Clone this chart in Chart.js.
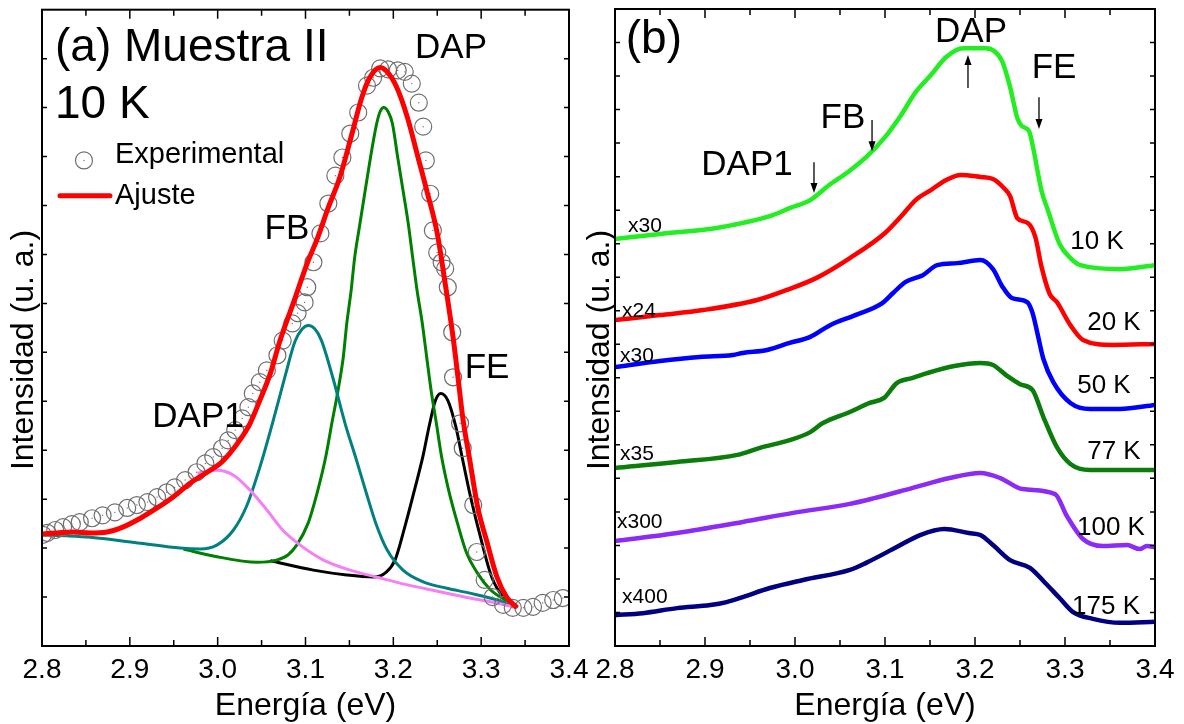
<!DOCTYPE html>
<html>
<head>
<meta charset="utf-8">
<title>Muestra II - fotoluminiscencia</title>
<script src="https://cdn.jsdelivr.net/npm/chart.js@4.4.1/dist/chart.umd.min.js"></script>
<style>
  html, body { margin: 0; padding: 0; background: #fff; }
  #wrap { position: relative; width: 1184px; height: 724px; }
  .panel { position: absolute; top: 0; }
  #boxA { left: 0; }
  #boxB { left: 580px; }
</style>
</head>
<body>
<div id="wrap">
  <div class="panel" id="boxA"><canvas id="chartA" width="600" height="724"></canvas></div>
  <div class="panel" id="boxB"><canvas id="chartB" width="604" height="724"></canvas></div>
</div>
<script>
// ---- (a) Muestra II, 10 K : experimental + ajuste ----
const expEnergy = [2.801, 2.806, 2.815, 2.824, 2.834, 2.843, 2.857, 2.869, 2.883, 2.897, 2.908, 2.920, 2.931, 2.942, 2.951, 2.963,
    2.976, 2.986, 2.995, 3.005, 3.012, 3.020, 3.028, 3.035, 3.040, 3.048, 3.056, 3.068, 3.074, 3.085, 3.091, 3.099, 3.102, 3.109,
    3.117, 3.126, 3.134, 3.142, 3.151, 3.160, 3.170, 3.177, 3.185, 3.194, 3.205, 3.213, 3.221, 3.229, 3.234, 3.237, 3.242, 3.245,
    3.250, 3.255, 3.259, 3.262, 3.267, 3.268, 3.276, 3.279, 3.291, 3.295, 3.304, 3.313, 3.325, 3.336, 3.348, 3.359, 3.370, 3.382, 3.393];
const expIntensity = [2.27, 2.31, 2.37, 2.43, 2.49, 2.53, 2.61, 2.67, 2.73, 2.82, 2.88, 2.94, 3.04, 3.14, 3.24, 3.39,
    3.55, 3.73, 3.86, 4.04, 4.20, 4.41, 4.65, 4.88, 5.16, 5.39, 5.63, 5.94, 6.24, 6.59, 6.80, 7.02, 7.33, 7.84,
    8.43, 9.04, 9.61, 9.98, 10.47, 10.90, 11.45, 11.61, 11.80, 11.78, 11.76, 11.73, 11.49, 11.10, 10.61, 9.92, 9.24, 8.49,
    8.04, 7.84, 7.71, 7.33, 6.41, 5.49, 4.55, 4.04, 2.88, 1.92, 1.35, 1.00, 0.84, 0.78, 0.78, 0.80, 0.88, 0.94, 0.98];

const fitEnergy = [2.801, 2.817, 2.835, 2.855, 2.874, 2.892, 2.912, 2.931, 2.949, 2.969, 2.988, 3.003, 3.014, 3.025, 3.037,
    3.048, 3.060, 3.071, 3.086, 3.102, 3.114, 3.126, 3.139, 3.153, 3.164, 3.173, 3.185, 3.194, 3.204, 3.216, 3.227, 3.238,
    3.250, 3.259, 3.268, 3.274, 3.279, 3.287, 3.296, 3.307, 3.318, 3.329, 3.341];
const fitIntensity = [2.29, 2.31, 2.33, 2.31, 2.33, 2.43, 2.61, 2.82, 3.04, 3.33, 3.55, 3.73, 3.94, 4.20, 4.55,
    5.02, 5.57, 6.24, 7.00, 7.82, 8.35, 8.96, 9.57, 10.47, 11.20, 11.61, 11.82, 11.71, 11.41, 10.80, 10.06, 9.31,
    8.43, 7.41, 6.31, 5.43, 4.67, 3.80, 2.84, 2.10, 1.41, 1.00, 0.78];

const dap1Energy = [2.977, 2.988, 2.999, 3.018, 3.037, 3.056, 3.074, 3.094, 3.120, 3.147, 3.185, 3.211, 3.250, 3.287, 3.318, 3.341];
const dap1Intensity = [3.53, 3.57, 3.59, 3.49, 3.18, 2.78, 2.37, 2.06, 1.76, 1.57, 1.39, 1.27, 1.12, 0.98, 0.88, 0.78];

const fbEnergy = [2.801, 2.829, 2.855, 2.912, 2.957, 2.980, 2.999, 3.018, 3.033, 3.048, 3.063, 3.077, 3.088, 3.096, 3.103,
    3.110, 3.118, 3.131, 3.145, 3.158, 3.170, 3.180, 3.193, 3.211, 3.234, 3.261, 3.287, 3.318, 3.341];
const fbIntensity = [2.27, 2.25, 2.22, 2.10, 2.00, 1.98, 2.06, 2.37, 2.86, 3.65, 4.59, 5.53, 6.22, 6.47, 6.55,
    6.49, 6.25, 5.49, 4.55, 3.80, 3.08, 2.51, 1.96, 1.55, 1.31, 1.18, 1.08, 0.94, 0.78];

const dapEnergy = [2.961, 2.995, 3.045, 3.068, 3.080, 3.090, 3.103, 3.114, 3.123, 3.130, 3.137, 3.143, 3.147, 3.152, 3.156,
    3.162, 3.168, 3.174, 3.181, 3.185, 3.189, 3.194, 3.199, 3.205, 3.211, 3.217, 3.222, 3.227, 3.233, 3.238, 3.243, 3.249,
    3.255, 3.263, 3.273, 3.283, 3.295, 3.310, 3.327, 3.341];
const dapIntensity = [1.98, 1.84, 1.71, 1.76, 1.86, 2.06, 2.51, 3.18, 3.86, 4.55, 5.22, 5.90, 6.59, 7.27, 7.94,
    8.63, 9.31, 9.98, 10.67, 10.92, 11.00, 10.92, 10.67, 9.98, 9.31, 8.63, 7.94, 7.27, 6.59, 5.90, 5.22, 4.55,
    3.86, 3.18, 2.51, 1.92, 1.51, 1.16, 0.94, 0.78];

const feEnergy = [3.060, 3.109, 3.147, 3.177, 3.192, 3.202, 3.213, 3.225, 3.234, 3.241, 3.248, 3.254, 3.262, 3.271, 3.279,
    3.288, 3.301, 3.312, 3.325, 3.341];
const feIntensity = [1.74, 1.55, 1.45, 1.41, 1.51, 1.76, 2.43, 3.25, 3.90, 4.51, 5.02, 5.16, 5.02, 4.49, 3.80,
    3.04, 2.10, 1.41, 1.00, 0.78];

// ---- (b) espectros a distintas temperaturas (desplazados) ----
const temperatures = ['10 K', '20 K', '50 K', '77 K', '100 K', '175 K'];
const factors = ['x30', 'x24', 'x30', 'x35', 'x300', 'x400'];

const e10K = [2.800, 2.850, 2.913, 2.942, 2.972, 2.994, 3.017, 3.038, 3.059, 3.079, 3.100, 3.118, 3.134, 3.151, 3.168, 3.187,
    3.212, 3.230, 3.239, 3.247, 3.252, 3.260, 3.264, 3.274, 3.281, 3.294, 3.306, 3.317, 3.361, 3.400];
const i10K = [12.14, 12.29, 12.47, 12.62, 12.82, 13.06, 13.30, 13.75, 14.14, 14.58, 15.18, 15.84, 16.52, 17.03, 17.57, 17.83,
    17.83, 17.45, 16.67, 15.75, 15.51, 15.36, 14.94, 13.57, 13.00, 11.99, 11.57, 11.36, 11.24, 11.36];

const e20K = [2.800, 2.850, 2.898, 2.958, 2.991, 3.024, 3.061, 3.100, 3.121, 3.134, 3.151, 3.168, 3.184, 3.206, 3.220,
    3.231, 3.239, 3.247, 3.259, 3.267, 3.274, 3.283, 3.291, 3.306, 3.320, 3.353, 3.400];
const i20K = [9.72, 9.87, 10.02, 10.32, 10.62, 10.98, 11.57, 12.32, 12.91, 13.30, 13.60, 13.90, 14.05, 13.99, 13.93,
    13.69, 13.42, 12.76, 12.61, 12.20, 11.30, 10.50, 10.26, 9.57, 9.13, 8.98, 9.01];

const e50K = [2.800, 2.850, 2.894, 2.931, 2.942, 2.969, 2.994, 3.017, 3.039, 3.067, 3.097, 3.109, 3.123, 3.142, 3.158,
    3.180, 3.206, 3.220, 3.230, 3.241, 3.258, 3.264, 3.270, 3.276, 3.287, 3.306, 3.328, 3.361, 3.400];
const i50K = [8.32, 8.50, 8.62, 8.68, 8.74, 8.83, 9.04, 9.22, 9.57, 9.87, 10.23, 10.53, 10.86, 11.06, 11.36,
    11.42, 11.51, 11.24, 10.74, 10.38, 10.26, 9.93, 9.25, 8.56, 7.87, 7.25, 7.07, 7.07, 7.19];

const e77K = [2.800, 2.869, 2.936, 2.961, 2.994, 3.017, 3.031, 3.061, 3.083, 3.099, 3.113, 3.130, 3.147, 3.177, 3.206,
    3.220, 3.236, 3.250, 3.264, 3.276, 3.291, 3.306, 3.328, 3.400];
const i77K = [5.31, 5.49, 5.70, 5.91, 6.14, 6.38, 6.65, 6.98, 7.25, 7.40, 7.84, 7.99, 8.14, 8.35, 8.44,
    8.38, 8.05, 7.81, 7.63, 6.83, 5.93, 5.43, 5.25, 5.25];

const e100K = [2.800, 2.869, 2.942, 2.998, 3.061, 3.088, 3.130, 3.172, 3.206, 3.228, 3.253, 3.289, 3.302, 3.320,
    3.342, 3.369, 3.383, 3.391, 3.400];
const i100K = [3.13, 3.37, 3.70, 3.97, 4.24, 4.41, 4.71, 5.01, 5.16, 5.01, 4.68, 4.53, 3.88, 3.19,
    2.98, 3.01, 2.89, 2.98, 2.95];

const e175K = [2.800, 2.831, 2.869, 2.906, 2.924, 2.942, 2.972, 3.009, 3.061, 3.079, 3.113, 3.139, 3.166, 3.193, 3.206,
    3.220, 3.239, 3.261, 3.276, 3.294, 3.309, 3.331, 3.361, 3.400];
const i175K = [0.92, 0.98, 1.13, 1.22, 1.31, 1.46, 1.73, 1.97, 2.27, 2.48, 2.95, 3.31, 3.49, 3.37, 3.31,
    3.01, 2.56, 2.33, 1.94, 1.43, 1.01, 0.81, 0.69, 0.72];

const energyTicks = [2.8, 2.9, 3.0, 3.1, 3.2, 3.3, 3.4];

const FONT = '"Liberation Sans", Arial, sans-serif';
Chart.defaults.font.family = FONT;
Chart.defaults.color = '#000';

function pts(xs, ys) {
    return xs.map((x, i) => ({ x: x, y: ys[i] }));
}

function curve(label, xs, ys, color, width, order) {
    return {
        label: label,
        data: pts(xs, ys),
        showLine: true,
        borderColor: color,
        backgroundColor: color,
        borderWidth: width,
        pointRadius: 0,
        cubicInterpolationMode: 'monotone',
        order: order
    };
}

// frame, inward ticks, titles and notes
function decor(cfg) {
    return {
        id: 'decor',
        afterDatasetsDraw(chart) {
            const ctx = chart.ctx;
            const a = chart.chartArea;
            const xs = chart.scales.x;
            const ys = chart.scales.y;
            ctx.save();
            ctx.strokeStyle = '#000';
            ctx.lineWidth = 2;
            ctx.strokeRect(a.left, a.top, a.right - a.left, a.bottom - a.top);

            ctx.lineWidth = 1.5;
            ctx.beginPath();
            for (let i = 0; i <= 12; i++) {
                const px = xs.getPixelForValue(2.8 + i * 0.05);
                const len = i % 2 === 0 ? 9 : 6;
                ctx.moveTo(px, a.bottom); ctx.lineTo(px, a.bottom - len);
                ctx.moveTo(px, a.top); ctx.lineTo(px, a.top + len);
            }
            for (let v = 1; v < ys.max; v++) {
                const py = ys.getPixelForValue(v);
                ctx.moveTo(a.left, py); ctx.lineTo(a.left + 5, py);
                ctx.moveTo(a.right, py); ctx.lineTo(a.right - 5, py);
            }
            ctx.stroke();

            ctx.fillStyle = '#000';
            ctx.textBaseline = 'alphabetic';
            cfg.notes.forEach(n => {
                ctx.font = n.size + 'px ' + FONT;
                ctx.textAlign = n.align || 'center';
                ctx.fillText(n.text, xs.getPixelForValue(n.x), ys.getPixelForValue(n.y));
            });

            (cfg.arrows || []).forEach(ar => {
                const px = xs.getPixelForValue(ar.x);
                const y0 = ys.getPixelForValue(ar.from);
                const y1 = ys.getPixelForValue(ar.to);
                const dir = y1 > y0 ? 1 : -1;
                ctx.lineWidth = 1.3;
                ctx.beginPath();
                ctx.moveTo(px, y0); ctx.lineTo(px, y1 - dir * 8);
                ctx.stroke();
                ctx.beginPath();
                ctx.moveTo(px, y1);
                ctx.lineTo(px - 3.5, y1 - dir * 10);
                ctx.lineTo(px + 3.5, y1 - dir * 10);
                ctx.closePath();
                ctx.fill();
            });

            if (cfg.legend) cfg.legend(ctx, xs, ys);

            ctx.font = '32px ' + FONT;
            ctx.textAlign = 'center';
            ctx.fillText('Energía (eV)', (a.left + a.right) / 2, 715);
            ctx.save();
            ctx.translate(a.left - cfg.yTitleGap, 350);
            ctx.rotate(-Math.PI / 2);
            ctx.textBaseline = 'middle';
            ctx.fillText('Intensidad (u. a.)', 0, 0);
            ctx.restore();
            ctx.restore();
        }
    };
}

function energyAxis(height) {
    return {
        type: 'linear',
        min: 2.8,
        max: 3.4,
        afterBuildTicks: s => { s.ticks = energyTicks.map(v => ({ value: v })); },
        ticks: {
            autoSkip: false,
            maxRotation: 0,
            padding: 7,
            font: { size: 28 },
            color: '#000',
            callback: v => Number(v).toFixed(1)
        },
        grid: { display: false, drawTicks: false },
        border: { display: false },
        afterFit: s => { s.height = height; }
    };
}

function intensityAxis(max, width) {
    return {
        type: 'linear',
        min: 0,
        max: max,
        ticks: { display: false },
        grid: { display: false, drawTicks: false },
        border: { display: false },
        afterFit: s => { s.width = width; }
    };
}

// ---------- panel (a) ----------
new Chart(document.getElementById('chartA'), {
    type: 'scatter',
    data: {
        datasets: [
            curve('Ajuste', fitEnergy, fitIntensity, '#ff0000', 5, 0),
            {
                label: 'Experimental',
                data: pts(expEnergy, expIntensity),
                showLine: false,
                pointStyle: 'circle',
                pointRadius: 8.5,
                borderColor: '#6f6f6f',
                backgroundColor: 'rgba(255,255,255,0)',
                borderWidth: 1.2,
                order: 1
            },
            {
                label: 'centros',
                data: pts(expEnergy, expIntensity),
                showLine: false,
                pointRadius: 0.7,
                borderWidth: 0,
                backgroundColor: '#777',
                order: 1
            },
            curve('DAP1', dap1Energy, dap1Intensity, '#f580f5', 3, 2),
            curve('FB', fbEnergy, fbIntensity, '#008080', 3, 3),
            curve('DAP', dapEnergy, dapIntensity, '#008000', 3, 4),
            curve('FE', feEnergy, feIntensity, '#000000', 3, 5)
        ]
    },
    options: {
        responsive: false,
        animation: false,
        events: [],
        layout: { padding: { top: 9, right: 31, left: 0, bottom: 0 } },
        plugins: { legend: { display: false }, tooltip: { enabled: false } },
        scales: { x: energyAxis(78), y: intensityAxis(13, 42) }
    },
    plugins: [decor({
        yTitleGap: 18,
        notes: [
            { text: '(a) Muestra II', x: 2.8148, y: 11.96, size: 46, align: 'left' },
            { text: '10 K', x: 2.8148, y: 10.78, size: 46, align: 'left' },
            { text: 'Experimental', x: 2.8831, y: 9.86, size: 29, align: 'left' },
            { text: 'Ajuste', x: 2.8831, y: 9.04, size: 29, align: 'left' },
            { text: 'DAP', x: 3.2657, y: 12.02, size: 35 },
            { text: 'FB', x: 3.0789, y: 8.31, size: 35 },
            { text: 'DAP1', x: 2.9776, y: 4.47, size: 35 },
            { text: 'FE', x: 3.3067, y: 5.47, size: 35 }
        ],
        legend(ctx, xs, ys) {
            ctx.strokeStyle = '#6f6f6f';
            ctx.lineWidth = 1.2;
            ctx.beginPath();
            ctx.arc(xs.getPixelForValue(2.8478), ys.getPixelForValue(9.92), 8.5, 0, Math.PI * 2);
            ctx.stroke();
            ctx.fillStyle = '#777';
            ctx.beginPath();
            ctx.arc(xs.getPixelForValue(2.8478), ys.getPixelForValue(9.92), 0.7, 0, Math.PI * 2);
            ctx.fill();
            ctx.fillStyle = '#000';
            ctx.strokeStyle = '#ff0000';
            ctx.lineWidth = 5;
            ctx.lineCap = 'round';
            ctx.beginPath();
            ctx.moveTo(xs.getPixelForValue(2.8205), ys.getPixelForValue(9.20));
            ctx.lineTo(xs.getPixelForValue(2.8774), ys.getPixelForValue(9.20));
            ctx.stroke();
            ctx.lineCap = 'butt';
            ctx.strokeStyle = '#000';
        }
    })]
});

// ---------- panel (b) ----------
const seriesB = [
    { e: e10K, i: i10K, color: '#22ee22' },
    { e: e20K, i: i20K, color: '#ff0000' },
    { e: e50K, i: i50K, color: '#0000ff' },
    { e: e77K, i: i77K, color: '#0a7d0a' },
    { e: e100K, i: i100K, color: '#8b2bf5' },
    { e: e175K, i: i175K, color: '#000080' }
];

new Chart(document.getElementById('chartB'), {
    type: 'scatter',
    data: {
        datasets: seriesB.map((s, k) => curve(temperatures[k], s.e, s.i, s.color, 4.5, k))
    },
    options: {
        responsive: false,
        animation: false,
        events: [],
        layout: { padding: { top: 9, right: 29, left: 0, bottom: 0 } },
        plugins: { legend: { display: false }, tooltip: { enabled: false } },
        scales: { x: energyAxis(78), y: intensityAxis(19, 35) }
    },
    plugins: [decor({
        yTitleGap: 15,
        notes: [
            { text: '(b)', x: 2.812, y: 17.69, size: 46, align: 'left' },
            { text: 'DAP', x: 3.1956, y: 18.01, size: 35 },
            { text: 'FE', x: 3.2878, y: 16.94, size: 35 },
            { text: 'FB', x: 3.0533, y: 15.45, size: 35 },
            { text: 'DAP1', x: 2.9467, y: 14.05, size: 35 },
            { text: temperatures[0], x: 3.3356, y: 11.84, size: 26 },
            { text: temperatures[1], x: 3.3544, y: 9.42, size: 26 },
            { text: temperatures[2], x: 3.3433, y: 7.55, size: 26 },
            { text: temperatures[3], x: 3.3544, y: 5.58, size: 26 },
            { text: temperatures[4], x: 3.3511, y: 3.31, size: 26 },
            { text: temperatures[5], x: 3.3456, y: 0.95, size: 26 },
            { text: factors[0], x: 2.8144, y: 12.35, size: 21, align: 'left' },
            { text: factors[1], x: 2.8078, y: 9.81, size: 21, align: 'left' },
            { text: factors[2], x: 2.8056, y: 8.47, size: 21, align: 'left' },
            { text: factors[3], x: 2.8056, y: 5.55, size: 21, align: 'left' },
            { text: factors[4], x: 2.8022, y: 3.52, size: 21, align: 'left' },
            { text: factors[5], x: 2.8078, y: 1.28, size: 21, align: 'left' }
        ],
        arrows: [
            { x: 3.0211, from: 14.43, to: 13.51 },
            { x: 3.0856, from: 15.69, to: 14.76 },
            { x: 3.1922, from: 16.64, to: 17.63 },
            { x: 3.2711, from: 16.37, to: 15.42 }
        ]
    })]
});
</script>
</body>
</html>
